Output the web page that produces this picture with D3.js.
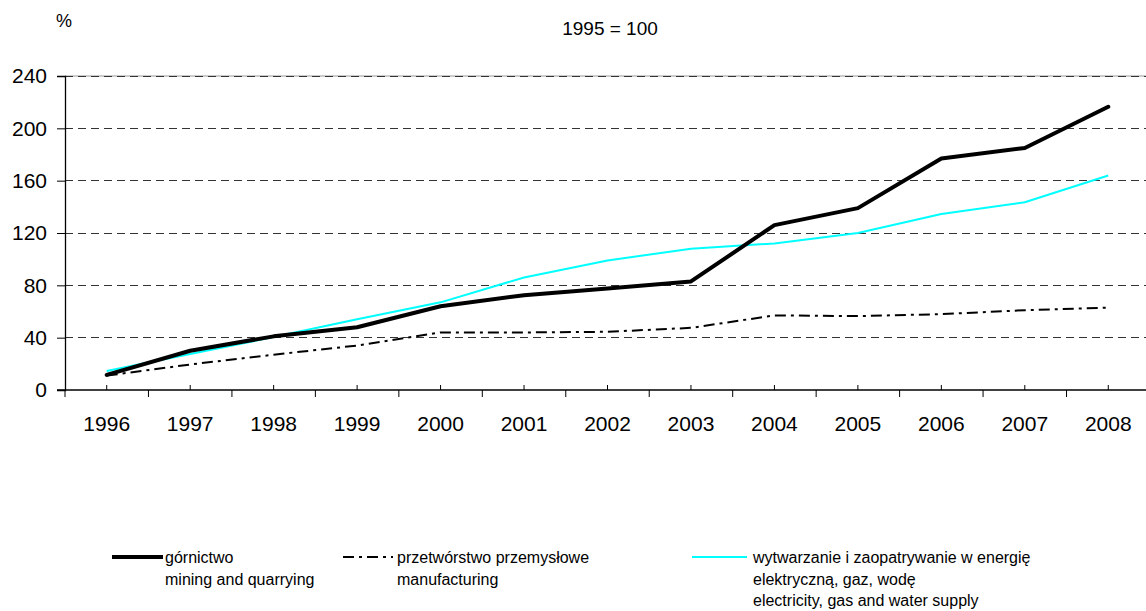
<!DOCTYPE html>
<html>
<head>
<meta charset="utf-8">
<script src="https://cdn.jsdelivr.net/npm/d3@7"></script>
<style>
  html, body { margin: 0; padding: 0; background: #fff; }
  svg { display: block; font-family: "Liberation Sans", Arial, sans-serif; }
</style>
</head>
<body>
<svg id="chart" width="1146" height="611"></svg>
<script>
const years = ["1996","1997","1998","1999","2000","2001","2002","2003","2004","2005","2006","2007","2008"];
const mining = [11.5, 30, 41, 48, 64, 72.5, 77.5, 83, 126, 139, 177, 185, 216.5];
const manufacturing = [11, 19.5, 27, 34, 44, 44, 44.5, 47.5, 57, 56.5, 58, 61, 63];
const energy = [14.5, 27.5, 40.5, 54, 67, 86, 99, 108, 112, 120, 134.5, 143.5, 164];
const yTicks = [0, 40, 80, 120, 160, 200, 240];
const unitLabel = "%";
const titleText = "1995 = 100";
const legendItems = [
  { key: "mining", lines: ["górnictwo", "mining and quarrying"] },
  { key: "manufacturing", lines: ["przetwórstwo przemysłowe", "manufacturing"] },
  { key: "energy", lines: ["wytwarzanie i zaopatrywanie w energię", "elektryczną, gaz, wodę", "electricity, gas and water supply"] }
];

(function () {
const styles = {
  mining: { stroke: "#000", width: 4, dash: null },
  manufacturing: { stroke: "#000", width: 2, dash: "11,5,3,5" },
  energy: { stroke: "#00FFFF", width: 2, dash: null }
};
const seriesData = { mining, manufacturing, energy };

const svg = d3.select("#chart");
const mLeft = 65, mRight = 1150, mTop = 76, mBottom = 390;

const x = d3.scaleBand().domain(years).range([mLeft, mRight]).padding(0);
const y = d3.scaleLinear().domain([0, 240]).range([mBottom, mTop]);
const cx = d => x(d) + x.bandwidth() / 2;

// gridlines
const grid = svg.append("g");
yTicks.filter(t => t > 0).forEach(t => {
  if (t === 240) {
    grid.append("line").attr("x1", mLeft).attr("x2", 1146).attr("y1", y(t)).attr("y2", y(t))
      .attr("stroke", "#999").attr("stroke-width", 1);
  }
  grid.append("line").attr("x1", mLeft).attr("x2", 1146).attr("y1", y(t)).attr("y2", y(t))
    .attr("stroke", "#333").attr("stroke-width", 1).attr("stroke-dasharray", "8,5")
    .attr("shape-rendering", "crispEdges");
});

// y axis
const yAxis = d3.axisLeft(y).tickValues(yTicks).tickSize(8).tickPadding(10).tickFormat(d3.format("d"));
const yg = svg.append("g").attr("transform", `translate(${mLeft},0)`).call(yAxis);
yg.select(".domain").attr("stroke", "#000").attr("stroke-width", 1.3);
yg.selectAll(".tick line").attr("stroke", "#000");
yg.selectAll("text").attr("font-size", "21px").attr("fill", "#000")
  .attr("font-family", '"Liberation Sans", Arial, sans-serif');

// x axis
const xg = svg.append("g");
xg.append("line").attr("x1", mLeft - 8).attr("x2", 1146).attr("y1", mBottom).attr("y2", mBottom)
  .attr("stroke", "#000").attr("stroke-width", 1.5);
years.forEach(yr => {
  xg.append("line").attr("x1", x(yr)).attr("x2", x(yr)).attr("y1", mBottom).attr("y2", mBottom + 7)
    .attr("stroke", "#000").attr("stroke-width", 1);
  xg.append("line").attr("x1", cx(yr)).attr("x2", cx(yr)).attr("y1", mBottom).attr("y2", mBottom - 5)
    .attr("stroke", "#000").attr("stroke-width", 1);
  xg.append("text").attr("x", cx(yr)).attr("y", 430.5).attr("text-anchor", "middle")
    .attr("font-size", "21px").attr("fill", "#000").text(yr);
});

// lines
const lineGen = vals => d3.line().x((d, i) => cx(years[i])).y(d => y(d))(vals);
["manufacturing", "energy", "mining"].forEach(k => {
  const s = styles[k];
  const p = svg.append("path").attr("d", lineGen(seriesData[k])).attr("fill", "none")
    .attr("stroke", s.stroke).attr("stroke-width", s.width).attr("stroke-linejoin", "round")
    .attr("stroke-linecap", k === "mining" ? "round" : "butt");
  if (s.dash) p.attr("stroke-dasharray", s.dash);
});

// labels
svg.append("text").attr("x", 56).attr("y", 27).attr("font-size", "18px").text(unitLabel);
svg.append("text").attr("x", 610).attr("y", 35).attr("text-anchor", "middle").attr("font-size", "19px").text(titleText);

// legend
const legendX = [{ l0: 112, l1: 163, t: 165 }, { l0: 343, l1: 393, t: 397 }, { l0: 692, l1: 747, t: 753 }];
legendItems.forEach((item, i) => {
  const s = styles[item.key];
  const pos = legendX[i];
  const ln = svg.append("line").attr("x1", pos.l0).attr("x2", pos.l1).attr("y1", 557).attr("y2", 557)
    .attr("stroke", s.stroke).attr("stroke-width", s.width);
  if (s.dash) ln.attr("stroke-dasharray", s.dash);
  item.lines.forEach((t, j) => {
    svg.append("text").attr("x", pos.t).attr("y", 563 + j * 21.5).attr("font-size", "16px").attr("fill", "#000").text(t);
  });
});
})();
</script>
</body>
</html>
